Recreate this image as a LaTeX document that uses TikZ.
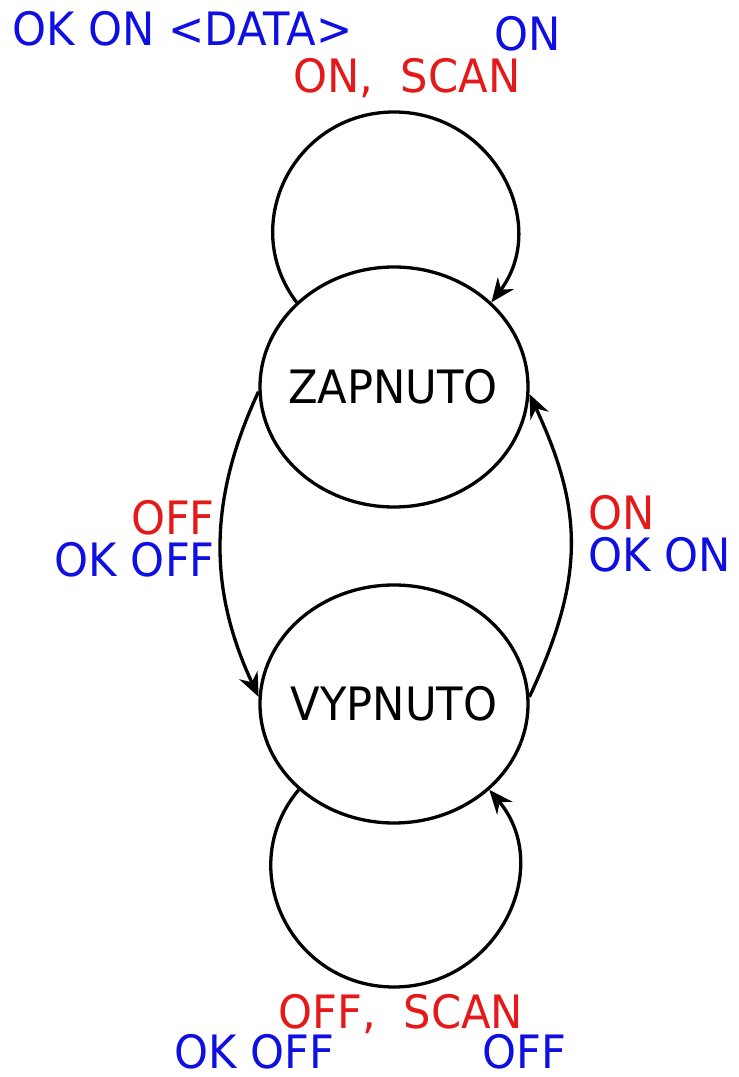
\documentclass[tikz,border=0pt]{standalone}
\usepackage{fontspec}
\setmainfont{DejaVu Sans}[FakeStretch=0.94]
\usetikzlibrary{shapes.geometric,arrows.meta}
\definecolor{lblblue}{RGB}{15,15,225}
\definecolor{lblred}{RGB}{228,25,25}
\begin{document}
\begin{tikzpicture}[x=1pt,y=1pt,
  state/.style={draw,ellipse,line width=3.3pt,minimum width=268pt,minimum height=240pt,inner sep=0pt},
  stext/.style={font=\fontsize{46}{52}\selectfont,inner sep=0pt},
  lbl/.style={font=\fontsize{46}{52}\selectfont,inner sep=0pt},
  bl/.style={lbl,text=lblblue},
  rd/.style={lbl,text=lblred},
  arr/.style={line width=3.3pt,-{Stealth[length=24pt,width=20pt,inset=8pt]}}]
\useasboundingbox (0,0) rectangle (739,1077);
\node[state] (Z) at (394,690) {};
\node[stext] (zt) at (393,690) {ZAPNUTO};
\node[state,minimum height=238pt] (V) at (394,373) {};
\node[stext] (vt) at (394,373) {VYPNUTO};
\coordinate (ztop) at (394,965);
\coordinate (vbot) at (394,90);
% loops
\draw[arr] (Z.139) to[out=127,in=180,looseness=1.18] (ztop) to[out=0,in=53,looseness=1.18] (Z.41);
\draw[arr] (V.222) to[out=230,in=180,looseness=1.2] (vbot) to[out=0,in=310,looseness=1.2] (V.318);
% between states
\draw[arr] (Z.182) to[out=245,in=115,looseness=1.0] (V.177);
\draw[arr] (V.3) to[out=65,in=295,looseness=1.1] (Z.357);
% labels
\node[bl,anchor=base west] (l1) at (12,1031) {OK ON <DATA>};
\node[bl,anchor=base] (l2) at (528,1026) {ON};
\node[rd,anchor=base] (l3) at (407,984) {ON,\ \ SCAN};
\node[rd,anchor=base east] (l4) at (215,542) {OFF};
\node[bl,anchor=base east] (l5) at (215,500) {OK OFF};
\node[rd,anchor=base west] (l6) at (588,547) {ON};
\node[bl,anchor=base west] (l7) at (588,505) {OK ON};
\node[rd,anchor=base] (l8) at (401,48) {OFF,\ \ SCAN};
\node[bl,anchor=base] (l9) at (254,9) {OK OFF};
\node[bl,anchor=base] (l10) at (524,9) {OFF};
\end{tikzpicture}
\end{document}
